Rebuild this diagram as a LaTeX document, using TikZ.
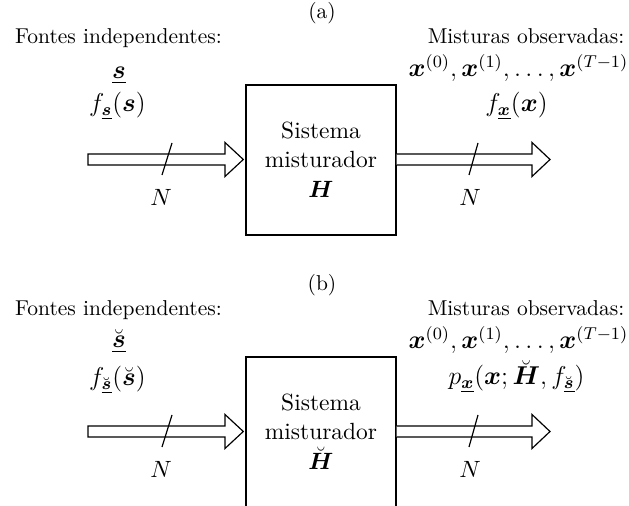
\documentclass[tikz,border=0pt]{standalone}
\usepackage{amsmath}
\begin{document}
\begin{tikzpicture}[x=0.4651pt,y=-0.4651pt,
  lbl/.style={inner sep=0pt,outer sep=0pt},
  mlbl/.style={inner sep=0pt,outer sep=0pt,font=\fontsize{11.5}{14}\selectfont},
  nlbl/.style={inner sep=0pt,outer sep=0pt,font=\fontsize{11}{13}\selectfont},
  blockbox/.style={draw,line width=0.55pt,font=\fontsize{10.9}{13.5}\selectfont},
  fatarrow/.style={draw,line width=0.55pt,fill=white,line join=miter},
  slashline/.style={line width=0.55pt}]
\useasboundingbox (0,0) rectangle (629,506);

% ---------- (a) ----------
\node[lbl] (ta) at (322,13) {(a)};
\node[lbl,anchor=base] (fa) at (118.5,44) {Fontes independentes:};
\node[lbl,anchor=base] (ma) at (526,44) {Misturas observadas:};
\node[mlbl,anchor=base] (sa) at (119,79) {$\underline{\boldsymbol{s}}$};
\node[mlbl,anchor=base] (fsa) at (117.5,112) {$f_{\underline{\boldsymbol{s}}}(\boldsymbol{s})$};
\node[mlbl,anchor=base] (xa) at (518.5,77) {$\boldsymbol{x}^{(0)},\boldsymbol{x}^{(1)},\ldots,\boldsymbol{x}^{(T-1)}$};
\node[mlbl,anchor=base] (fxa) at (516.5,112) {$f_{\underline{\boldsymbol{x}}}(\boldsymbol{x})$};

\node[blockbox,minimum width=150*0.4651pt,minimum height=150*0.4651pt,
      align=center,inner sep=0pt] (ba) at (321,160)
      {Sistema\\ misturador\\[0.5pt] $\boldsymbol{H}$};

\coordinate (ia) at (88,159.5);
\coordinate (tipa) at (243.3,159.5);
\path[fatarrow] (88,154) -- (225,154) -- (225,142.5) -- (tipa) -- (225,176.5) -- (225,165) -- (88,165) -- cycle;
\draw[slashline] (172,143) -- (162,175);
\node[nlbl] (na) at (161,197) {$N$};

\coordinate (oa) at (550,159.5);
\path[fatarrow] (ba.east |- 0,154) -- (532,154) -- (532,142.5) -- (oa) -- (532,176.5) -- (532,165) -- (ba.east |- 0,165);
\draw[slashline] (478,143) -- (469,175);
\node[nlbl] (nb) at (470,197) {$N$};

% ---------- (b) ----------
\begin{scope}[yshift=-272*0.4651pt]
\node[lbl] (tb) at (322,13) {(b)};
\node[lbl,anchor=base] (fb) at (118.5,44) {Fontes independentes:};
\node[lbl,anchor=base] (mb) at (526,44) {Misturas observadas:};
\node[mlbl,anchor=base] (sb) at (119,76) {$\underline{\breve{\boldsymbol{s}}}$};
\node[mlbl,anchor=base] (fsb) at (117.5,114) {$f_{\underline{\breve{\boldsymbol{s}}}}(\breve{\boldsymbol{s}})$};
\node[mlbl,anchor=base] (xb) at (518.5,77) {$\boldsymbol{x}^{(0)},\boldsymbol{x}^{(1)},\ldots,\boldsymbol{x}^{(T-1)}$};
\node[mlbl,anchor=base] (pxb) at (516.5,113) {$p_{\underline{\boldsymbol{x}}}(\boldsymbol{x};\breve{\boldsymbol{H}},f_{\underline{\breve{\boldsymbol{s}}}})$};

\node[blockbox,minimum width=150*0.4651pt,minimum height=150*0.4651pt,
      align=center,inner sep=0pt] (bb) at (321,160)
      {Sistema\\ misturador\\[0.5pt] $\breve{\boldsymbol{H}}$};

\coordinate (ib) at (88,159.5);
\coordinate (tipb) at (243.3,159.5);
\path[fatarrow] (88,154) -- (225,154) -- (225,142.5) -- (tipb) -- (225,176.5) -- (225,165) -- (88,165) -- cycle;
\draw[slashline] (172,143) -- (162,175);
\node[nlbl] (nc) at (161,197) {$N$};

\coordinate (ob) at (550,159.5);
\path[fatarrow] (bb.east |- 0,154) -- (532,154) -- (532,142.5) -- (ob) -- (532,176.5) -- (532,165) -- (bb.east |- 0,165);
\draw[slashline] (478,143) -- (469,175);
\node[nlbl] (nd) at (470,197) {$N$};
\end{scope}
\end{tikzpicture}
\end{document}
